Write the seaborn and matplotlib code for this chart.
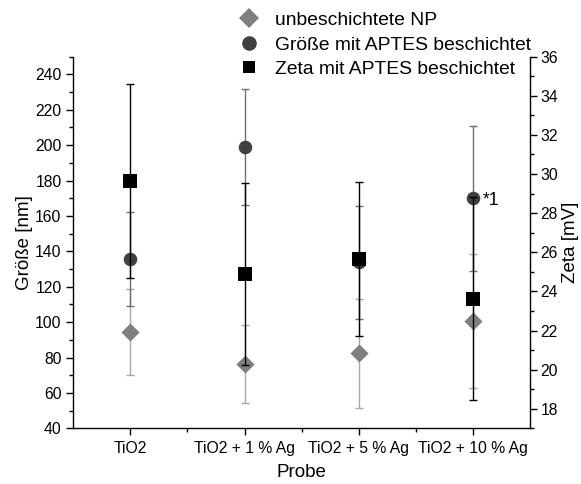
import numpy as np
import pandas as pd
import matplotlib
matplotlib.use("Agg")
import matplotlib.pyplot as plt
import seaborn as sns
from matplotlib.lines import Line2D
from matplotlib.ticker import MultipleLocator, FixedLocator

# ---- data ----
proben = ["TiO2", "TiO2 + 1 % Ag", "TiO2 + 5 % Ag", "TiO2 + 10 % Ag"]
groesse_unb = [94.6, 76.4, 82.4, 100.7]
groesse_unb_err = [24.3, 22.2, 30.8, 37.9]
groesse_aptes = [135.8, 198.9, 133.7, 169.9]
groesse_aptes_err = [26.6, 32.8, 31.7, 40.9]
zeta_aptes = [29.63, 24.9, 25.64, 23.63]
zeta_aptes_err = [4.95, 4.64, 3.93, 5.18]
legend_labels = ["unbeschichtete NP", "Größe mit APTES beschichtet", "Zeta mit APTES beschichtet"]

df = pd.DataFrame({
    "Probe": proben,
    "unb": groesse_unb, "unb_err": groesse_unb_err,
    "aptes": groesse_aptes, "aptes_err": groesse_aptes_err,
    "zeta": zeta_aptes, "zeta_err": zeta_aptes_err,
})

sns.set_theme(style="ticks")
plt.rcParams['font.family'] = ['Liberation Sans', 'DejaVu Sans']
plt.rcParams['axes.linewidth'] = 1.0
plt.rcParams['text.color'] = 'black'
plt.rcParams['axes.labelcolor'] = 'black'
plt.rcParams['xtick.color'] = 'black'
plt.rcParams['ytick.color'] = 'black'

fig = plt.figure(figsize=(5.81, 4.84), dpi=100)
ax = fig.add_axes([0.1262, 0.115, 0.912 - 0.1262, 0.883 - 0.115])
ax2 = ax.twinx()

c_unb, c_unb_err = "#7f7f7f", "#a8a8a8"
c_apt, c_apt_err = "#404040", "#707070"
c_zeta = "#000000"
cap = 3

# left axis: size
ax.errorbar(df["Probe"], df["unb"], yerr=df["unb_err"], fmt="none", ecolor=c_unb_err,
            elinewidth=1, capsize=cap, capthick=1, zorder=1)
ax.errorbar(df["Probe"], df["aptes"], yerr=df["aptes_err"], fmt="none", ecolor=c_apt_err,
            elinewidth=1, capsize=cap, capthick=1, zorder=2)
sns.scatterplot(data=df, x="Probe", y="unb", marker="D", s=85, color=c_unb,
                linewidth=0, ax=ax, zorder=3, legend=False)
sns.scatterplot(data=df, x="Probe", y="aptes", marker="o", s=95, color=c_apt,
                linewidth=0, ax=ax, zorder=4, legend=False)

# right axis: zeta
ax2.errorbar(df["Probe"], df["zeta"], yerr=df["zeta_err"], fmt="none", ecolor=c_zeta,
             elinewidth=1, capsize=cap, capthick=1, zorder=1)
sns.scatterplot(data=df, x="Probe", y="zeta", marker="s", s=88, color=c_zeta,
                linewidth=0, ax=ax2, zorder=3, legend=False)

ax.annotate("*1", xy=(3, groesse_aptes[3]), xytext=(7, -5.0), textcoords="offset points",
            va="baseline", ha="left", fontsize=12.7)

# axes formatting
ax.set_xlim(-0.5, 3.5)
ax.set_ylim(40, 250)
ax2.set_ylim(17, 36)
ax.yaxis.set_major_locator(MultipleLocator(20))
ax.yaxis.set_minor_locator(MultipleLocator(10))
ax2.yaxis.set_major_locator(MultipleLocator(2))
ax2.yaxis.set_minor_locator(MultipleLocator(1))
ax.set_xticks(range(len(proben)))
ax.set_xticklabels(proben)
ax.xaxis.set_minor_locator(FixedLocator([0.5, 1.5, 2.5]))

for a in (ax, ax2):
    a.spines["top"].set_visible(False)
    for s in a.spines.values():
        s.set_linewidth(1.0)
        s.set_color("black")
ax.spines["right"].set_visible(False)
ax2.spines["left"].set_visible(False)
ax2.spines["bottom"].set_visible(False)

ax.tick_params(axis="y", which="major", direction="out", length=5, width=1, labelsize=11.3, pad=3.5, colors="black")
ax.tick_params(axis="y", which="minor", direction="out", length=3, width=1, colors="black")
ax.tick_params(axis="x", which="major", direction="out", length=5, width=1, labelsize=11.3, pad=4, colors="black")
ax.tick_params(axis="x", which="minor", direction="out", length=3, width=1, colors="black")
ax2.tick_params(axis="y", which="major", direction="out", length=5, width=1, labelsize=11.3, pad=2.5, colors="black")
ax2.tick_params(axis="y", which="minor", direction="out", length=3, width=1, colors="black")

ax.set_xlabel("Probe", fontsize=13.5, labelpad=6, color="black")
ax.set_ylabel("Größe [nm]", fontsize=13.5, labelpad=1.5, color="black")
ax2.set_ylabel("Zeta [mV]", fontsize=13.5, labelpad=3, color="black")

handles = [
    Line2D([], [], linestyle="none", marker="D", markersize=10, color=c_unb, markeredgewidth=0),
    Line2D([], [], linestyle="none", marker="o", markersize=10.5, color=c_apt, markeredgewidth=0),
    Line2D([], [], linestyle="none", marker="s", markersize=8.8, color=c_zeta, markeredgewidth=0),
]
fig.legend(handles, legend_labels, loc="upper left", bbox_to_anchor=(239 / 581, 1 - 11.5 / 484),
           frameon=False, fontsize=13.9, handlelength=1.0, handletextpad=0.85,
           labelspacing=0.365, borderpad=0, borderaxespad=0)

fig.savefig("out.png", dpi=100)
